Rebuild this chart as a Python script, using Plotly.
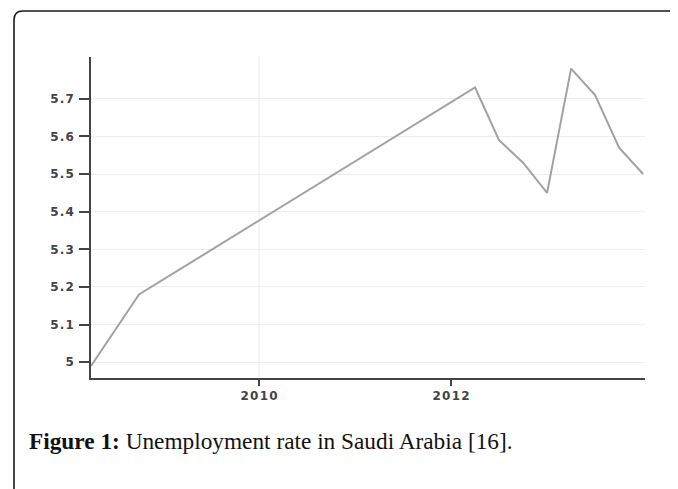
import plotly.graph_objects as go

# Data
years = [2008.25, 2008.75, 2012.25, 2012.5, 2012.75, 2013.0, 2013.25, 2013.5, 2013.75, 2014.0]
rates = [4.99, 5.18, 5.73, 5.59, 5.53, 5.45, 5.78, 5.71, 5.57, 5.50]
y_ticks = [5.0, 5.1, 5.2, 5.3, 5.4, 5.5, 5.6, 5.7]
y_tick_text = ["5", "5.1", "5.2", "5.3", "5.4", "5.5", "5.6", "5.7"]
x_ticks = [2010, 2012]
x_tick_text = ["2010", "2012"]
caption_bold = "Figure 1:"
caption_rest = " Unemployment rate in Saudi Arabia [16]."

HS = "\u200a"  # hair space to widen the stretched-looking tick labels


def spaced(s):
    return HS.join(list(s))


OFF = 8  # browser body margin
PAGE_W, PAGE_H = 678, 489
W, H = PAGE_W - OFF, PAGE_H - OFF
# plot area in page coordinates
PL, PR, PT, PB = 91, 645, 57, 378
L, T = PL - OFF, PT - OFF
R, B = W - (PR - OFF), H - (PB - OFF)
pw, ph = W - L - R, H - T - B


def px(x):  # page x -> paper
    return (x - OFF - L) / pw


def py(y):  # page y -> paper
    return (H - B - (y - OFF)) / ph


fig = go.Figure()
fig.add_trace(go.Scatter(
    x=years, y=rates, mode="lines",
    line=dict(color="#a2a2a2", width=2),
    hoverinfo="skip", showlegend=False,
))

# vertical gridline at 2010 only
fig.add_shape(type="line", xref="x", yref="paper", x0=2010, x1=2010, y0=0, y1=1,
              line=dict(color="#ececec", width=1), layer="below")

# rounded frame around the figure
r = 9
path = (f"M {px(14)},{py(PAGE_H + 10)} L {px(14)},{py(11 + r)} "
        f"Q {px(14)},{py(11)} {px(14 + r)},{py(11)} L {px(PAGE_W + 10)},{py(11)}")
fig.add_shape(type="path", xref="paper", yref="paper", path=path,
              line=dict(color="#1a1a1a", width=1.6))

fig.add_annotation(
    xref="paper", yref="paper", x=px(27), y=py(441), xanchor="left", yanchor="middle",
    text=f"<b>{caption_bold}</b>{caption_rest}", showarrow=False,
    font=dict(family="Liberation Serif", size=23.3, color="#111"),
)

tick_font = dict(family="DejaVu Sans", size=12, color="#444", weight="bold")

fig.update_layout(
    width=W, height=H,
    margin=dict(l=L, r=R, t=T, b=B),
    paper_bgcolor="white", plot_bgcolor="white",
    xaxis=dict(
        range=[2008.25, 2014.02], tickvals=x_ticks,
        ticktext=[spaced(t) for t in x_tick_text],
        showgrid=False, zeroline=False,
        showline=True, linecolor="#444", linewidth=1.5,
        ticks="outside", ticklen=6, tickwidth=1.5, tickcolor="#444",
        tickfont=tick_font,
    ),
    yaxis=dict(
        range=[4.958, 5.811], tickvals=y_ticks,
        ticktext=[spaced(t) for t in y_tick_text],
        showgrid=True, gridcolor="#eeeeee", gridwidth=1, zeroline=False,
        showline=True, linecolor="#444", linewidth=1.5,
        ticks="outside", ticklen=10, tickwidth=1.5, tickcolor="#444",
        tickfont=tick_font, ticklabelstandoff=3,
    ),
)

fig.write_html("out.html")
